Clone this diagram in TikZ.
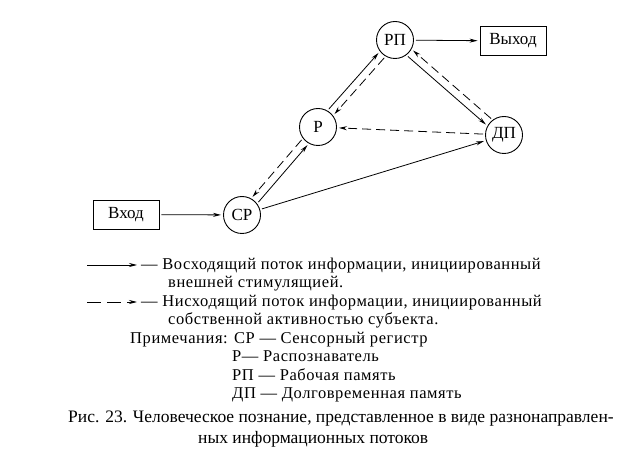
\documentclass[tikz,border=0pt]{standalone}
\usepackage{fontspec}
\setmainfont{Liberation Serif}
\usetikzlibrary{arrows.meta}
\begin{document}
\begin{tikzpicture}[x=1pt,y=-1pt,
  circ/.style={draw,circle,line width=0.9pt,minimum size=37pt,inner sep=0pt,font=\fontsize{17}{17}\selectfont},
  boxn/.style={draw,rectangle,line width=0.9pt,minimum width=66pt,minimum height=29pt,inner sep=0pt,font=\fontsize{17}{17}\selectfont},
  up/.style={line width=0.8pt,-{Stealth[length=8pt,width=4pt]},shorten >=2pt,shorten <=2pt},
  down/.style={up,dash pattern=on 9pt off 5pt},
  leg/.style={anchor=base west,inner sep=0pt,font=\fontsize{16.5}{18}\selectfont\addfontfeature{LetterSpace=3.5}},
  captxt/.style={anchor=base west,inner sep=0pt,font=\fontsize{17.5}{20}\selectfont}]
\useasboundingbox (0,0) rectangle (640,470);
\node[boxn] (in) at (126,214.5) {Вход};
\node[circ] (cr) at (242,215) {СР};
\node[circ] (r) at (318,127) {Р};
\node[circ] (rp) at (395,40) {РП};
\node[circ] (dp) at (504,135) {ДП};
\node[boxn] (out) at (513,41) {Выход};
% edges
\draw[up] (in) -- (cr);
\draw[up] (rp) -- (out);
\draw[up] (cr.37) -- (r.241);
\draw[down] (r.217) -- (cr.61);
\draw[up] (r.60) -- (rp.217);
\draw[down] (rp.240) -- (r.37);
\draw[up] (rp.-53) -- (dp.151);
\draw[down] (dp.127) -- (rp.-29);
\draw[down] (dp) -- (r);
\draw[up] (cr) -- (dp);
% legend
\coordinate (l1a) at (87,265); \coordinate (l1b) at (137,265);
\draw[up,shorten <=0pt,shorten >=0pt] (l1a) -- (l1b);
\coordinate (l2a) at (87,302); \coordinate (l2b) at (137,302);
\draw[up,shorten <=0pt,shorten >=0pt,dash pattern=on 14pt off 6pt] (l2a) -- (l2b);
\node[leg] (t1) at (141,270) {— Восходящий поток информации, инициированный};
\node[leg] (t2) at (168,288) {внешней стимулящией.};
\node[leg] (t3) at (141,307) {— Нисходящий поток информации, инициированный};
\node[leg] (t4) at (168,325) {собственной активностью субъекта.};
\node[leg] (t5) at (130,344) {Примечания: СР — Сенсорный регистр};
\node[leg] (t6) at (232,362) {Р— Распознаватель};
\node[leg] (t7) at (232,380) {РП — Рабочая память};
\node[leg] (t8) at (232,398) {ДП — Долговременная память};
\node[captxt] (c1) at (68,422) {Рис. 23. Человеческое познание, представленное в виде разнонаправлен-};
\node[captxt] (c2) at (198,443) {ных информационных потоков};
\end{tikzpicture}
\end{document}
